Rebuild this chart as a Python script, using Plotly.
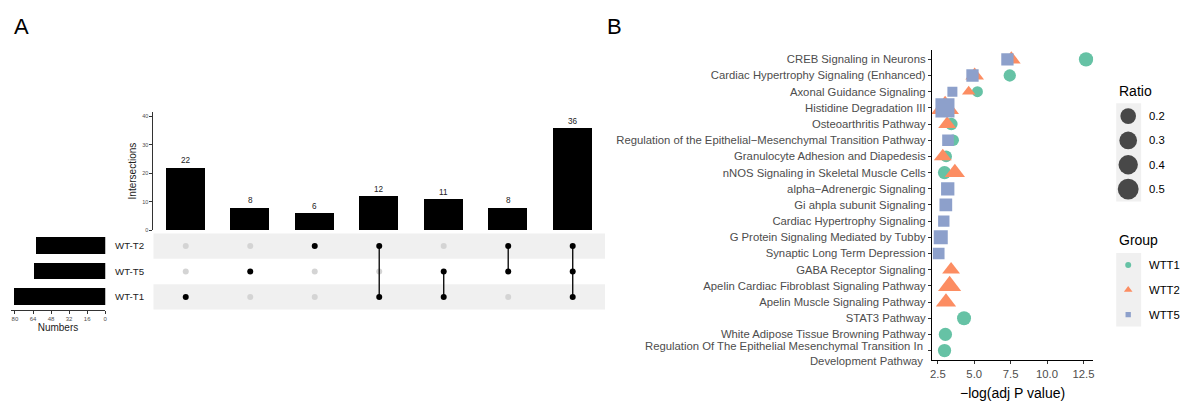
import math
import plotly.graph_objects as go

W, H = 1189, 401

# ---------------- Panel A: UpSet of the three comparisons ----------------
set_names = ["WT-T1", "WT-T5", "WT-T2"]          # matrix rows, bottom to top
inter_sizes = [22, 8, 6, 12, 11, 8, 36]
inter_sets = [
    ["WT-T1"],
    ["WT-T5"],
    ["WT-T2"],
    ["WT-T2", "WT-T1"],
    ["WT-T5", "WT-T1"],
    ["WT-T2", "WT-T5"],
    ["WT-T2", "WT-T5", "WT-T1"],
]
inter_ticks = [0, 10, 20, 30, 40]
set_size_ticks = [0, 16, 32, 48, 64, 80]

# ---------------- Panel B: enriched pathways per group ----------------
pathways = [
    "CREB Signaling in Neurons",
    "Cardiac Hypertrophy Signaling (Enhanced)",
    "Axonal Guidance Signaling",
    "Histidine Degradation III",
    "Osteoarthritis Pathway",
    "Regulation of the Epithelial\u2212Mesenchymal Transition Pathway",
    "Granulocyte Adhesion and Diapedesis",
    "nNOS Signaling in Skeletal Muscle Cells",
    "alpha\u2212Adrenergic Signaling",
    "Gi ahpla subunit Signaling",
    "Cardiac Hypertrophy Signaling",
    "G Protein Signaling Mediated by Tubby",
    "Synaptic Long Term Depression",
    "GABA Receptor Signaling",
    "Apelin Cardiac Fibroblast Signaling Pathway",
    "Apelin Muscle Signaling Pathway",
    "STAT3 Pathway",
    "White Adipose Tissue Browning Pathway",
    "Regulation Of The Epithelial Mesenchymal Transition In<br>Development Pathway",
]

wtt1_terms = [pathways[i] for i in (0, 1, 2, 4, 5, 6, 7, 16, 17, 18)]
wtt1_logp = [12.68, 7.44, 5.22, 3.43, 3.55, 3.07, 2.96, 4.30, 3.02, 2.96]
wtt1_ratio = [0.15, 0.093, 0.068, 0.097, 0.08, 0.08, 0.118, 0.14, 0.118, 0.118]

wtt2_terms = [pathways[i] for i in (0, 1, 2, 3, 4, 6, 7, 13, 14, 15)]
wtt2_logp = [7.55, 5.03, 4.62, 3.00, 3.14, 2.84, 3.67, 3.41, 3.31, 3.06]
wtt2_ratio = [0.11, 0.11, 0.052, 0.395, 0.095, 0.095, 0.143, 0.095, 0.22, 0.143]

wtt5_terms = [pathways[i] for i in (0, 1, 2, 3, 5, 8, 9, 10, 11, 12)]
wtt5_logp = [7.28, 4.88, 3.50, 2.99, 3.20, 3.18, 3.05, 2.91, 2.70, 2.56]
wtt5_ratio = [0.136, 0.136, 0.073, 0.55, 0.115, 0.175, 0.15, 0.105, 0.21, 0.115]

groups = ["WTT1", "WTT2", "WTT5"]
ratio_breaks = [0.2, 0.3, 0.4, 0.5]
logp_ticks = [2.5, 5.0, 7.5, 10.0, 12.5]

# ---------------- styling ----------------
FONT = "Liberation Sans"
GREY30 = "#4d4d4d"
TICK_FONT = 11.3
group_colors = {"WTT1": "#66c2a5", "WTT2": "#fc8d62", "WTT5": "#8da0cb"}
group_symbols = {"WTT1": "circle", "WTT2": "triangle-up", "WTT5": "square"}
# equal-area correction so every shape reads as the same size
symbol_scale = {"circle": 1.0, "triangle-up": 1.25, "square": 0.886}


def ratio_px(r):
    return 8.5 + 13.0 * math.sqrt(max(r - 0.05, 0.0) / 0.5)


def fx(p):
    return p / W


def fy(p):
    return 1 - p / H


fig = go.Figure()

# --- intersection bars
xs = list(range(1, len(inter_sizes) + 1))
fig.add_trace(go.Bar(x=xs, y=inter_sizes, width=0.6, marker=dict(color="black", line=dict(width=0)),
                     xaxis="x", yaxis="y", hoverinfo="skip"))

# --- matrix
row_of = {name: i + 1 for i, name in enumerate(set_names)}
grey_x, grey_y, on_x, on_y = [], [], [], []
for i, members in enumerate(inter_sets, start=1):
    for name in set_names:
        if name in members:
            on_x.append(i)
            on_y.append(row_of[name])
        else:
            grey_x.append(i)
            grey_y.append(row_of[name])
fig.add_trace(go.Scatter(x=grey_x, y=grey_y, mode="markers", xaxis="x2", yaxis="y2",
                         marker=dict(size=6, color="#d4d4d4"), hoverinfo="skip"))
for i, members in enumerate(inter_sets, start=1):
    if len(members) > 1:
        rows = [row_of[m] for m in members]
        fig.add_trace(go.Scatter(x=[i, i], y=[min(rows), max(rows)], mode="lines", xaxis="x2", yaxis="y2",
                                 line=dict(color="#111111", width=1.4), hoverinfo="skip"))
fig.add_trace(go.Scatter(x=on_x, y=on_y, mode="markers", xaxis="x2", yaxis="y2",
                         marker=dict(size=6, color="black"), hoverinfo="skip"))

# --- set sizes
set_sizes = [sum(s for s, m in zip(inter_sizes, inter_sets) if name in m) for name in set_names]
fig.add_trace(go.Bar(x=set_sizes, y=[row_of[n] for n in set_names], orientation="h", width=0.65,
                     marker=dict(color="black", line=dict(width=0)), xaxis="x3", yaxis="y3",
                     hoverinfo="skip"))

# --- pathway dot plot
ypos = {p: len(pathways) - 1 - i for i, p in enumerate(pathways)}
series = {
    "WTT1": (wtt1_terms, wtt1_logp, wtt1_ratio),
    "WTT2": (wtt2_terms, wtt2_logp, wtt2_ratio),
    "WTT5": (wtt5_terms, wtt5_logp, wtt5_ratio),
}
for g in groups:
    terms, vals, ratios = series[g]
    sym = group_symbols[g]
    fig.add_trace(go.Scatter(
        x=vals, y=[ypos[t] for t in terms], mode="markers", xaxis="x4", yaxis="y4",
        marker=dict(symbol=sym, color=group_colors[g], opacity=1,
                    size=[ratio_px(r) * symbol_scale[sym] for r in ratios],
                    line=dict(width=0)),
        name=g, hoverinfo="skip"))

# --- legends (pixel-space overlay axis)
LEG_X = 1130
ratio_key_y = [117, 141.5, 166, 190.5]
group_key_y = [267, 292, 317]
fig.add_trace(go.Scatter(x=[LEG_X] * len(ratio_breaks), y=ratio_key_y, mode="markers", xaxis="x5", yaxis="y5",
                         marker=dict(color="black", size=[ratio_px(b) for b in ratio_breaks], line=dict(width=0)),
                         hoverinfo="skip"))
for g, yk in zip(groups, group_key_y):
    sym = group_symbols[g]
    fig.add_trace(go.Scatter(x=[LEG_X], y=[yk], mode="markers", xaxis="x5", yaxis="y5",
                             marker=dict(symbol=sym, color=group_colors[g], size=6 * symbol_scale[sym],
                                         line=dict(width=0)),
                             hoverinfo="skip"))

shapes = []
# shaded matrix bands
for name in set_names:
    r = row_of[name]
    if r % 2 == 1:
        shapes.append(dict(type="rect", xref="x2 domain", yref="y2", x0=0, x1=1, y0=r - 0.5, y1=r + 0.5,
                           fillcolor="#f0f0f0", line=dict(width=0), layer="below"))
# legend key backgrounds
shapes.append(dict(type="rect", xref="x5", yref="y5", x0=1118, x1=1143, y0=104, y1=203,
                   fillcolor="#f0f0f0", line=dict(width=0), layer="below"))
shapes.append(dict(type="rect", xref="x5", yref="y5", x0=1118, x1=1143, y0=255, y1=329,
                   fillcolor="#f0f0f0", line=dict(width=0), layer="below"))

ann = []
# panel letters
ann.append(dict(text="A", x=fx(10), y=fy(12), xref="paper", yref="paper", xanchor="left", yanchor="top",
                showarrow=False, font=dict(size=22, color="black")))
ann.append(dict(text="B", x=fx(605), y=fy(12), xref="paper", yref="paper", xanchor="left", yanchor="top",
                showarrow=False, font=dict(size=22, color="black")))
# counts above bars
for i, v in zip(xs, inter_sizes):
    ann.append(dict(text=str(v), x=i, y=v, xref="x", yref="y", yanchor="bottom", yshift=0,
                    showarrow=False, font=dict(size=8.2, color="#222222")))
# set names
for name in set_names:
    ann.append(dict(text=name, x=fx(127.5), y=row_of[name], xref="paper", yref="y2", xanchor="center",
                    showarrow=False, font=dict(size=9.7, color="#222222")))
# wrapped pathway names are centred on their row as right-aligned blocks
tick_text = []
for p in pathways:
    if "<br>" in p:
        tick_text.append("")
        ann.append(dict(text=p, x=fx(926), y=ypos[p], xref="paper", yref="y4", xanchor="right",
                        yanchor="middle", align="right", showarrow=False, yshift=-3,
                        font=dict(size=TICK_FONT, color=GREY30)))
    else:
        tick_text.append(p)
# legend texts
ann.append(dict(text="Ratio", x=1119, y=92, xref="x5", yref="y5", xanchor="left", yanchor="middle",
                showarrow=False, font=dict(size=14, color="black")))
for b, yk in zip(ratio_breaks, ratio_key_y):
    ann.append(dict(text=f"{b:.1f}", x=1149, y=yk, xref="x5", yref="y5", xanchor="left", yanchor="middle",
                    showarrow=False, font=dict(size=11.3, color="black")))
ann.append(dict(text="Group", x=1119, y=242, xref="x5", yref="y5", xanchor="left", yanchor="middle",
                showarrow=False, font=dict(size=14, color="black")))
for g, yk in zip(groups, group_key_y):
    ann.append(dict(text=g, x=1149, y=yk, xref="x5", yref="y5", xanchor="left", yanchor="middle",
                    showarrow=False, font=dict(size=11.3, color="black")))

hidden = dict(visible=False, fixedrange=True)

fig.update_layout(
    width=W, height=H, margin=dict(l=0, r=0, t=0, b=0),
    paper_bgcolor="white", plot_bgcolor="white", showlegend=False,
    font=dict(family=FONT, color="black"),
    shapes=shapes, annotations=ann, bargap=0,
    # intersection bars
    xaxis=dict(domain=[fx(152), fx(605)], range=[0.5, 7.5], anchor="y", visible=False),
    yaxis=dict(domain=[fy(232), fy(112.7)], range=[0, 41.5], anchor="x",
               showline=True, linecolor="#333333", linewidth=1, ticks="outside", ticklen=3,
               tickcolor="#333333", tickvals=inter_ticks, tickfont=dict(size=5.5, color=GREY30),
               showgrid=False, zeroline=False,
               title=dict(text="Intersections", font=dict(size=10, color="#222222"), standoff=3)),
    # matrix
    xaxis2=dict(domain=[fx(152), fx(605)], range=[0.5, 7.5], anchor="y2", visible=False),
    yaxis2=dict(domain=[fy(312), fy(235)], range=[0.5, 3.5], anchor="x2", visible=False),
    # set sizes
    xaxis3=dict(domain=[fx(8.7), fx(103.6)], range=[83.8, 0], anchor="y3",
                showline=True, linecolor="#333333", linewidth=1, ticks="outside", ticklen=3,
                tickcolor="#333333", tickvals=set_size_ticks, tickfont=dict(size=6, color=GREY30),
                showgrid=False, zeroline=False,
                title=dict(text="Numbers", font=dict(size=10, color="#222222"), standoff=1)),
    yaxis3=dict(domain=[fy(312), fy(235)], range=[0.5, 3.5], anchor="x3", visible=False),
    # dot plot
    xaxis4=dict(domain=[fx(933), fx(1095)], range=[2.09, 13.18], anchor="y4",
                showline=True, linecolor="black", linewidth=1, ticks="outside", ticklen=3,
                tickcolor="#333333", tickvals=logp_ticks, ticktext=[f"{t:.1f}" for t in logp_ticks],
                tickfont=dict(size=TICK_FONT, color=GREY30), showgrid=False, zeroline=False,
                title=dict(text="\u2212log(adj P value)", font=dict(size=14, color="black"), standoff=9)),
    yaxis4=dict(domain=[fy(363), fy(50)], range=[-0.6, 18.6], anchor="x4",
                showline=True, linecolor="black", linewidth=1, ticks="outside", ticklen=3,
                tickcolor="#333333", tickvals=[ypos[p] for p in pathways], ticktext=tick_text,
                tickfont=dict(size=TICK_FONT, color=GREY30), showgrid=False, zeroline=False),
    # legend overlay in pixel units
    xaxis5=dict(domain=[fx(1100), 1], range=[1100, W], anchor="y5", **hidden),
    yaxis5=dict(domain=[0, 1], range=[H, 0], anchor="x5", **hidden),
)

fig.write_html("out.html")
